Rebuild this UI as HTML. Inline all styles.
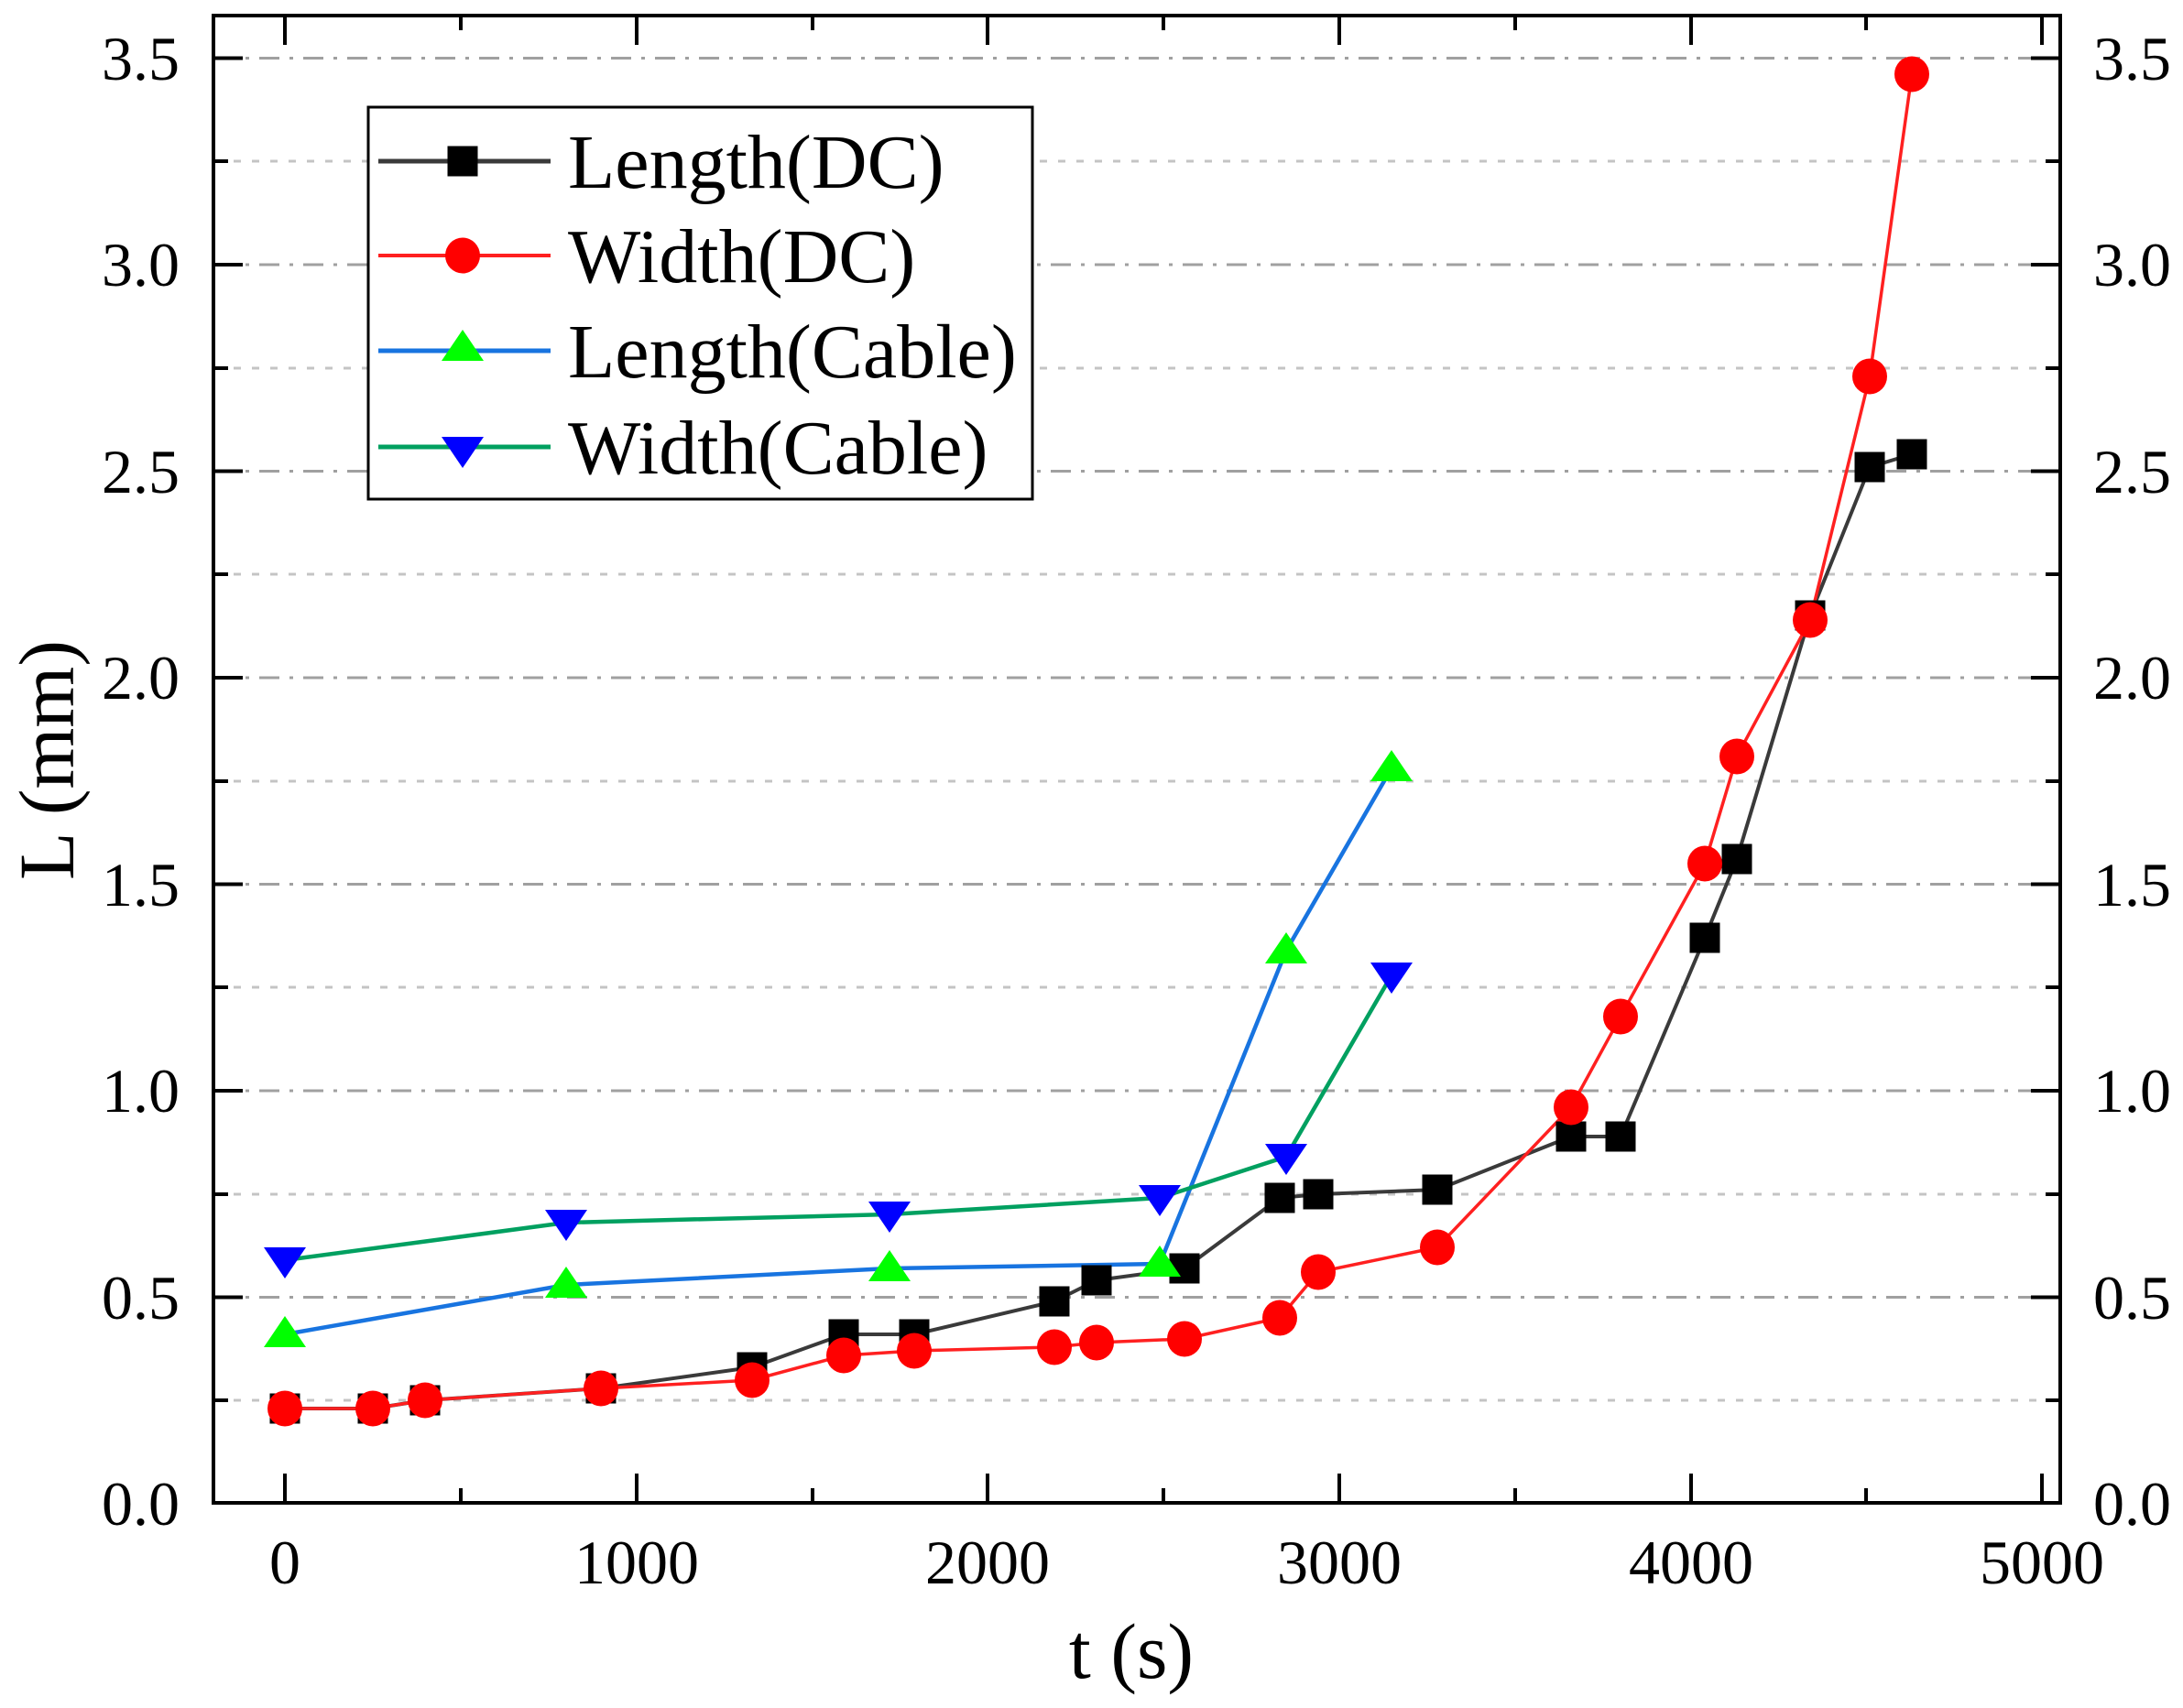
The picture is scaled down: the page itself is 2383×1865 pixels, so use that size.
<!DOCTYPE html>
<html><head><meta charset="utf-8"><style>
html,body{margin:0;padding:0;background:#fff;}
svg{display:block;}
text{font-family:"Liberation Serif",serif;fill:#000;}
</style></head><body>
<svg width="2383" height="1865" viewBox="0 0 2383 1865" xmlns="http://www.w3.org/2000/svg">
<defs>
<g id="sq"><rect x="-16.5" y="-16.5" width="33" height="33" fill="#000"/></g>
<g id="ci"><ellipse cx="0" cy="0" rx="19" ry="19.5" fill="#ff0000"/></g>
<g id="tu"><polygon points="0,-20 23,14 -23,14" fill="#00ff00"/></g>
<g id="td"><polygon points="0,20 23,-14 -23,-14" fill="#0000ff"/></g>
</defs>
<g stroke-width="3">
<g stroke="#a0a0a0" stroke-dasharray="22,11,4,11">
<line x1="235" x2="2248" y1="1416.5" y2="1416.5"/>
<line x1="235" x2="2248" y1="1191" y2="1191"/>
<line x1="235" x2="2248" y1="965.5" y2="965.5"/>
<line x1="235" x2="2248" y1="740" y2="740"/>
<line x1="235" x2="2248" y1="514.5" y2="514.5"/>
<line x1="235" x2="2248" y1="289" y2="289"/>
<line x1="235" x2="2248" y1="63.5" y2="63.5"/>
</g>
<g stroke="#c4c4c4" stroke-dasharray="8,12">
<line x1="235" x2="2248" y1="1529" y2="1529"/>
<line x1="235" x2="2248" y1="1304" y2="1304"/>
<line x1="235" x2="2248" y1="1078" y2="1078"/>
<line x1="235" x2="2248" y1="853" y2="853"/>
<line x1="235" x2="2248" y1="627" y2="627"/>
<line x1="235" x2="2248" y1="402" y2="402"/>
<line x1="235" x2="2248" y1="176" y2="176"/>
</g>
</g>
<rect x="233" y="17" width="2016" height="1624" fill="none" stroke="#000" stroke-width="4"/>
<g stroke="#000" stroke-width="4">
<path d="M311,1641v-32M695,1641v-32M1078,1641v-32M1462,1641v-32M1846,1641v-32M2229,1641v-32
M503,1641v-16M887,1641v-16M1270,1641v-16M1654,1641v-16M2037,1641v-16
M311,17v32M695,17v32M1078,17v32M1462,17v32M1846,17v32M2229,17v32
M503,17v16M887,17v16M1270,17v16M1654,17v16M2037,17v16"/>
<path d="M233,1641h32M233,1416.5h32M233,1191h32M233,965.5h32M233,740h32M233,514.5h32M233,289h32M233,63.5h32
M233,1529h16M233,1304h16M233,1078h16M233,853h16M233,627h16M233,402h16M233,176h16
M2249,1641h-32M2249,1416.5h-32M2249,1191h-32M2249,965.5h-32M2249,740h-32M2249,514.5h-32M2249,289h-32M2249,63.5h-32
M2249,1529h-16M2249,1304h-16M2249,1078h-16M2249,853h-16M2249,627h-16M2249,402h-16M2249,176h-16"/>
</g>
<g font-size="68" text-anchor="end">
<text x="196" y="1665">0.0</text><text x="196" y="1440">0.5</text><text x="196" y="1214">1.0</text>
<text x="196" y="989">1.5</text><text x="196" y="763">2.0</text><text x="196" y="538">2.5</text>
<text x="196" y="312">3.0</text><text x="196" y="87">3.5</text>
</g>
<g font-size="68" text-anchor="start">
<text x="2285" y="1665">0.0</text><text x="2285" y="1440">0.5</text><text x="2285" y="1214">1.0</text>
<text x="2285" y="989">1.5</text><text x="2285" y="763">2.0</text><text x="2285" y="538">2.5</text>
<text x="2285" y="312">3.0</text><text x="2285" y="87">3.5</text>
</g>
<g font-size="68" text-anchor="middle">
<text x="311" y="1729">0</text><text x="695" y="1729">1000</text><text x="1078" y="1729">2000</text>
<text x="1462" y="1729">3000</text><text x="1846" y="1729">4000</text><text x="2229" y="1729">5000</text>
</g>
<text x="1235" y="1832" font-size="86" text-anchor="middle">t (s)</text>
<text transform="translate(80,830) rotate(-90)" font-size="86" text-anchor="middle">L (mm)</text>

<g fill="none" stroke-linejoin="round">
<polyline stroke="#3a3a3a" stroke-width="4" points="311,1538 407,1538 464,1529 656,1516 821,1493 921,1457 998,1457 1151,1421 1197,1398 1293,1385 1397,1308 1439,1304 1569,1299 1715,1241 1769,1241 1861,1024 1896,938 1976,672 2041,510 2087,496"/>
<polyline stroke="#ff2020" stroke-width="3.5" points="311,1538 407,1538 464,1529 656,1516 821,1507 921,1480 998,1475 1151,1471 1197,1466 1293,1462 1397,1439 1439,1389 1569,1362 1715,1209 1769,1110 1861,943 1896,826 1976,677 2041,411 2087,81"/>
<polyline stroke="#1874e0" stroke-width="4.5" points="311,1457 618,1403 971,1385 1266,1380 1404,1038 1519,839"/>
<polyline stroke="#00a060" stroke-width="4.5" points="311,1376 618,1335 971,1326 1266,1308 1404,1263 1519,1065"/>
</g>
<g>
<use href="#sq" x="311" y="1538"/><use href="#sq" x="407" y="1538"/><use href="#sq" x="464" y="1529"/><use href="#sq" x="656" y="1516"/><use href="#sq" x="821" y="1493"/><use href="#sq" x="921" y="1457"/><use href="#sq" x="998" y="1457"/><use href="#sq" x="1151" y="1421"/><use href="#sq" x="1197" y="1398"/><use href="#sq" x="1293" y="1385"/><use href="#sq" x="1397" y="1308"/><use href="#sq" x="1439" y="1304"/><use href="#sq" x="1569" y="1299"/><use href="#sq" x="1715" y="1241"/><use href="#sq" x="1769" y="1241"/><use href="#sq" x="1861" y="1024"/><use href="#sq" x="1896" y="938"/><use href="#sq" x="1976" y="672"/><use href="#sq" x="2041" y="510"/><use href="#sq" x="2087" y="496"/>
<use href="#ci" x="311" y="1538"/><use href="#ci" x="407" y="1538"/><use href="#ci" x="464" y="1529"/><use href="#ci" x="656" y="1516"/><use href="#ci" x="821" y="1507"/><use href="#ci" x="921" y="1480"/><use href="#ci" x="998" y="1475"/><use href="#ci" x="1151" y="1471"/><use href="#ci" x="1197" y="1466"/><use href="#ci" x="1293" y="1462"/><use href="#ci" x="1397" y="1439"/><use href="#ci" x="1439" y="1389"/><use href="#ci" x="1569" y="1362"/><use href="#ci" x="1715" y="1209"/><use href="#ci" x="1769" y="1110"/><use href="#ci" x="1861" y="943"/><use href="#ci" x="1896" y="826"/><use href="#ci" x="1976" y="677"/><use href="#ci" x="2041" y="411"/><use href="#ci" x="2087" y="81"/>
<use href="#tu" x="311" y="1457"/><use href="#tu" x="618" y="1403"/><use href="#tu" x="971" y="1385"/><use href="#tu" x="1266" y="1380"/><use href="#tu" x="1404" y="1038"/><use href="#tu" x="1519" y="839"/>
<use href="#td" x="311" y="1376"/><use href="#td" x="618" y="1335"/><use href="#td" x="971" y="1326"/><use href="#td" x="1266" y="1308"/><use href="#td" x="1404" y="1263"/><use href="#td" x="1519" y="1065"/>
</g>
<rect x="402" y="117" width="725" height="428" fill="#fff" stroke="#000" stroke-width="3"/>
<g stroke-width="5">
<line x1="413" x2="601" y1="176" y2="176" stroke="#3a3a3a"/>
<line x1="413" x2="601" y1="279" y2="279" stroke="#ff2020" stroke-width="4"/>
<line x1="413" x2="601" y1="383" y2="383" stroke="#1874e0"/>
<line x1="413" x2="601" y1="488" y2="488" stroke="#00a060"/>
</g>
<use href="#sq" x="505" y="176"/>
<use href="#ci" x="505" y="279"/>
<use href="#tu" x="505" y="380"/>
<use href="#td" x="505" y="491"/>
<g font-size="84">
<text x="620" y="205">Length(DC)</text>
<text x="620" y="308">Width(DC)</text>
<text x="620" y="412">Length(Cable)</text>
<text x="620" y="517">Width(Cable)</text>
</g>
</svg>
</body></html>
